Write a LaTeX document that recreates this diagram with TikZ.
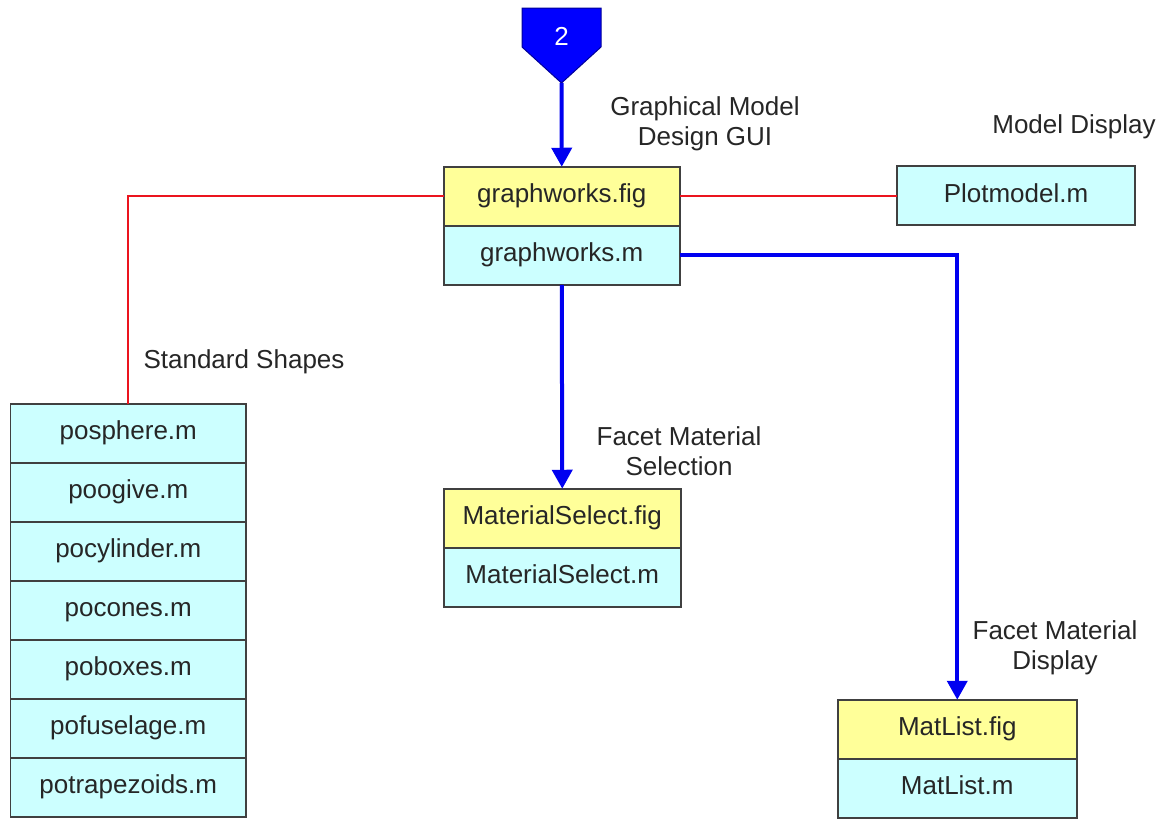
\documentclass[tikz,border=0pt]{standalone}
\usepackage{fontspec}
\setmainfont{Liberation Sans}
\usepackage{xcolor}
\usepackage{tikz}
\usetikzlibrary{arrows.meta,positioning,matrix}

\definecolor{figyellow}{RGB}{255,255,153}
\definecolor{mcyan}{RGB}{204,255,255}
\definecolor{boxline}{RGB}{64,64,64}
\definecolor{linkred}{RGB}{235,20,30}
\definecolor{flowblue}{RGB}{0,0,240}

\begin{document}
\begin{tikzpicture}[
  x=0.5pt, y=-0.5pt,
  font=\fontsize{13}{15}\selectfont,
  cell/.style={
    draw=boxline, line width=0.75pt, fill=mcyan,
    minimum height=29.5pt, inner sep=2pt, outer sep=0pt,
    text height=9.5pt, text depth=3pt,
    text=black!85
  },
  stack/.style={
    matrix of nodes,
    anchor=north west,
    inner sep=0pt, outer sep=0pt,
    nodes={cell, minimum width=#1, anchor=center},
    row sep=-0.75pt
  },
  fig/.style={fill=figyellow},
  caption/.style={align=center, text=black!85},
  flow/.style={draw=flowblue, line width=2pt, ->,
    >={Triangle[length=9.5pt, width=10pt]}},
  link/.style={draw=linkred, line width=1pt}
  ]

\useasboundingbox (0,0) rectangle (1167,820);

% entry marker
\draw[fill=blue, draw=blue!60!black, line width=0.5pt]
  (522,8) -- (601,8) -- (601,47) -- (561.5,83) -- (522,47) -- cycle;
\node[text=white] (mark) at (561.5,36) {2};
\coordinate (marktip) at (561.5,83);

% main gui
\matrix[stack=118pt] (gw) at (443,166) {
  |[fig]| graphworks.fig \\
  graphworks.m \\
};
\node[caption] (gwlabel) at (705,124) {Graphical Model\\Design GUI};

% model display
\node[cell, minimum width=119pt, anchor=north west] (plot) at (897,166) {Plotmodel.m};
\node[caption] (plotlabel) at (1074,127) {Model Display};

% standard shapes
\matrix[stack=117.5pt] (shapes) at (10,403) {
  posphere.m \\
  poogive.m \\
  pocylinder.m \\
  pocones.m \\
  poboxes.m \\
  pofuselage.m \\
  potrapezoids.m \\
};
\node[caption] (shapeslabel) at (244,362) {Standard Shapes};

% material selection
\matrix[stack=118.5pt] (ms) at (443,488) {
  |[fig]| MaterialSelect.fig \\
  MaterialSelect.m \\
};
\node[caption] (mslabel) at (679,451) {Facet Material\\Selection};

% material display
\matrix[stack=119.5pt] (ml) at (837,699) {
  |[fig]| MatList.fig \\
  MatList.m \\
};
\node[caption] (mllabel) at (1055,648) {Facet Material\\Display};

% connections
\draw[flow] (marktip) -- (gw-1-1.north);
\draw[link] (gw-1-1.east) -- (gw-1-1.east -| plot.west);
\draw[link] (gw-1-1.west) -| (shapes-1-1.north);
\draw[flow] (gw-2-1.south) -- (ms-1-1.north);
\draw[flow] (gw-2-1.east) -| (ml-1-1.north);

\end{tikzpicture}
\end{document}
